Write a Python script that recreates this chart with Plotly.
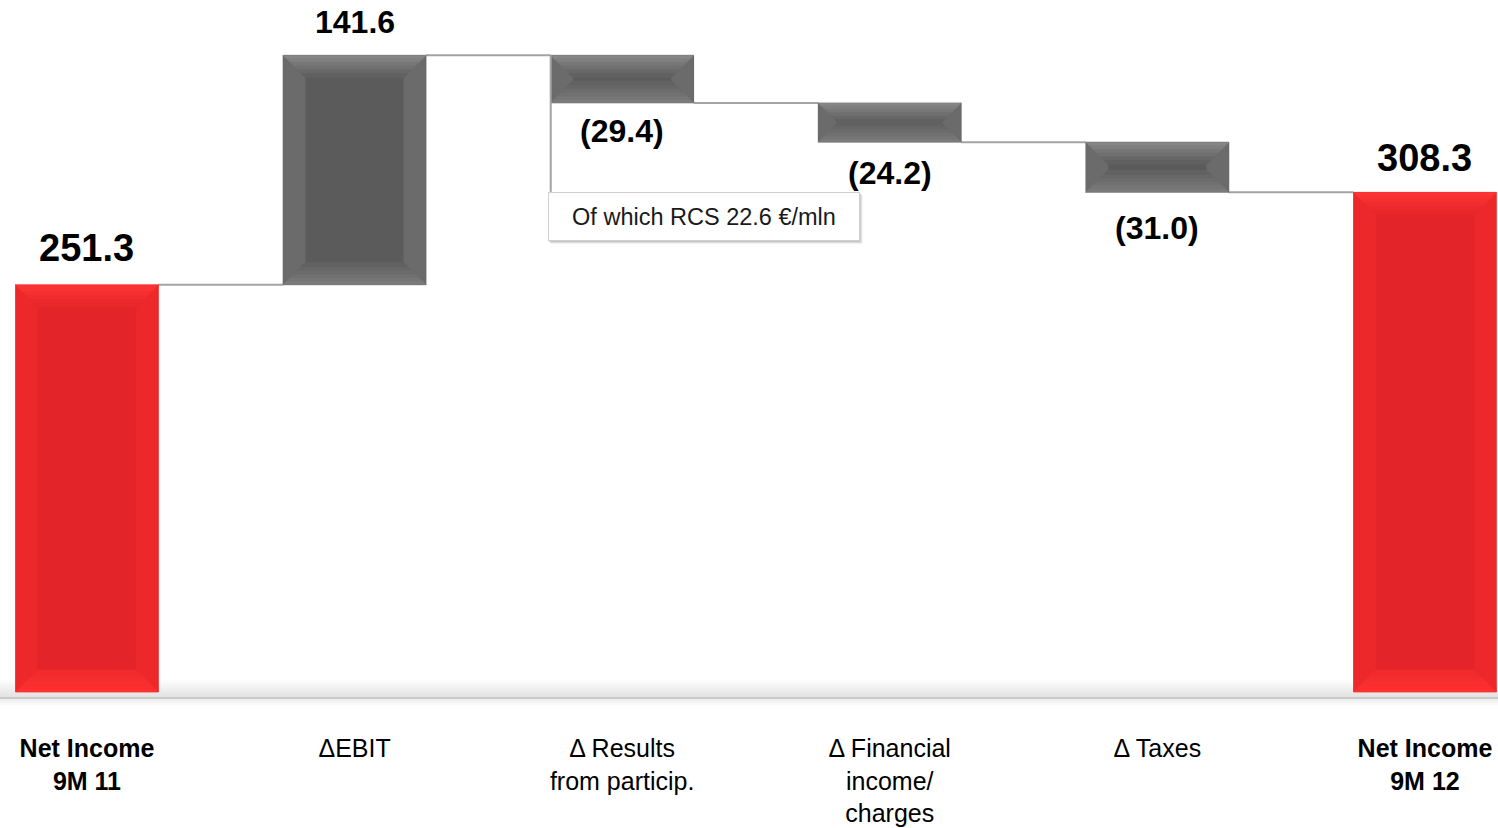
import plotly.graph_objects as go

# ---------------- data ----------------
categories = ["<b>Net Income<br>9M 11</b>", "ΔEBIT", "Δ Results<br>from particip.",
              "Δ Financial<br>income/<br>charges", "Δ Taxes", "<b>Net Income<br>9M 12</b>"]
values = [251.3, 141.6, -29.4, -24.2, -31.0, 308.3]
measures = ["absolute", "relative", "relative", "relative", "relative", "total"]
value_labels = ["251.3", "141.6", "(29.4)", "(24.2)", "(31.0)", "308.3"]
note_text = "Of which RCS 22.6 €/mln"

# ---------------- style ----------------
FONT = "Liberation Sans, Arial, sans-serif"
W, H = 1498, 828
MB = 118
X_RANGE = [-0.325, 5.273]
Y_RANGE = [-11.1, 427.0]
BAR_W = 0.534
XS = W / (X_RANGE[1] - X_RANGE[0])            # px per x unit
YS = (H - MB) / (Y_RANGE[1] - Y_RANGE[0])     # px per y unit
BEVEL = 22                                    # px
label_sizes = [38, 32, 32, 32, 32, 38]
label_shift = [37, 33, -28, -31, -36, 34]

RED = dict(main="#E32428", top=("#FF3535", "#E6272A"), bot=("#FF3131", "#F02A2D"), side="#EC282B")
GRAY = dict(main="#5B5B5B", top=("#8A8A8A", "#5D5D5D"), bot=("#7E7E7E", "#5F5F5F"), side="#6B6B6B")

# ---------------- compute waterfall geometry ----------------
idx = list(range(len(values)))
lows, highs, levels = [], [], []
level = 0.0
for v, m in zip(values, measures):
    if m == "absolute":
        b, t = 0.0, v
        level = v
    elif m == "relative":
        b, t = level, level + v
        level = t
    else:
        b, t = 0.0, level
    lows.append(min(b, t))
    highs.append(max(b, t))
    levels.append(level)
heights = [h - l for h, l in zip(highs, lows)]
styles = [RED if m != "relative" else GRAY for m in measures]

fig = go.Figure()
fig.add_trace(go.Bar(
    x=idx, y=heights, base=lows, width=BAR_W,
    marker=dict(color=[s["main"] for s in styles], line=dict(width=0)),
    hoverinfo="skip", showlegend=False))

# connectors
cx, cy = [], []
for i in range(len(values) - 1):
    cx += [i + BAR_W / 2, i + 1 - BAR_W / 2, None]
    cy += [levels[i], levels[i], None]
fig.add_trace(go.Scatter(x=cx, y=cy, mode="lines", line=dict(color="#A3A3A3", width=2),
                         hoverinfo="skip", showlegend=False))


def hex2rgb(h):
    h = h.lstrip("#")
    return tuple(int(h[k:k + 2], 16) for k in (0, 2, 4))


def mix(c1, c2, t):
    a, b = hex2rgb(c1), hex2rgb(c2)
    return "rgb(%d,%d,%d)" % tuple(round(a[k] + (b[k] - a[k]) * t) for k in range(3))


def poly(pts):
    return "M " + " L ".join("%f,%f" % p for p in pts) + " Z"


def fill_path(pts, color):
    return dict(type="path", xref="x", yref="y", line=dict(width=0.8, color=color),
                fillcolor=color, path=poly(pts))


shapes = []
# baseline shadow
for k in range(9):
    p0 = 680 + k * 2
    shapes.append(dict(type="rect", xref="paper", yref="y", x0=0, x1=1,
                       y0=(692 - p0 - 2) / YS, y1=(692 - p0) / YS,
                       fillcolor=mix("#FFFFFF", "#E2E2E2", (k + 1) / 9), line=dict(width=0), layer="below"))
shapes.append(dict(type="line", xref="paper", yref="y", x0=0, x1=1,
                   y0=(692 - 698) / YS, y1=(692 - 698) / YS, line=dict(color="#C9C9C9", width=2), layer="below"))
for k in range(4):
    p0 = 699 + k * 2
    shapes.append(dict(type="rect", xref="paper", yref="y", x0=0, x1=1,
                       y0=(692 - p0 - 2) / YS, y1=(692 - p0) / YS,
                       fillcolor=mix("#E8E8E8", "#FFFFFF", (k + 1) / 4), line=dict(width=0), layer="below"))

# bevels
N = 6
for i in idx:
    s = styles[i]
    x0, x1 = i - BAR_W / 2, i + BAR_W / 2
    lo, hi = lows[i], highs[i]
    B = min(BEVEL, heights[i] * YS / 2)
    bx, by = B / XS, B / YS
    shapes.append(fill_path([(x0, lo), (x0, hi), (x0 + bx, hi - by), (x0 + bx, lo + by)], s["side"]))
    shapes.append(fill_path([(x1, lo), (x1, hi), (x1 - bx, hi - by), (x1 - bx, lo + by)], s["side"]))
    for k in range(N):
        d0, d1 = B * k / N, B * (k + 1) / N
        ctop = mix(s["top"][0], s["top"][1], (k + 0.5) / N)
        cbot = mix(s["bot"][0], s["bot"][1], (k + 0.5) / N)
        shapes.append(fill_path([(x0 + d0 / XS, hi - d0 / YS), (x1 - d0 / XS, hi - d0 / YS),
                                 (x1 - d1 / XS, hi - d1 / YS), (x0 + d1 / XS, hi - d1 / YS)], ctop))
        shapes.append(fill_path([(x0 + d0 / XS, lo + d0 / YS), (x1 - d0 / XS, lo + d0 / YS),
                                 (x1 - d1 / XS, lo + d1 / YS), (x0 + d1 / XS, lo + d1 / YS)], cbot))

# callout
NOTE_BAR = 2
NOTE_DROP = 89      # px below bar bottom
BOX_W, BOX_H = 312, 49
note_x = NOTE_BAR - BAR_W / 2
note_top = lows[NOTE_BAR] - NOTE_DROP / YS
shapes.append(dict(type="line", xref="x", yref="y", x0=note_x, x1=note_x,
                   y0=highs[NOTE_BAR], y1=note_top, line=dict(color="#A3A3A3", width=2)))
# soft shadow of the note box
for k, a in enumerate([0.06, 0.08, 0.10]):
    off = 3 - k
    shapes.append(dict(type="rect", xref="x", yref="y",
                       x0=note_x + (off - 3) / XS, x1=note_x + (BOX_W - 3 + off) / XS,
                       y0=note_top - (BOX_H + off) / YS, y1=note_top - off / YS,
                       fillcolor="rgba(0,0,0,%.2f)" % a, line=dict(width=0)))

annotations = []
for i in idx:
    y = highs[i] if label_shift[i] > 0 else lows[i]
    annotations.append(dict(x=i, y=y, xref="x", yref="y", text="<b>%s</b>" % value_labels[i],
                            showarrow=False, yanchor="middle", yshift=label_shift[i],
                            font=dict(family=FONT, size=label_sizes[i], color="#000000")))
annotations.append(dict(x=note_x, y=note_top, xref="x", yref="y", text=note_text, showarrow=False,
                        xanchor="left", yanchor="top", xshift=-3, width=BOX_W - 12, height=BOX_H - 12,
                        borderpad=5, borderwidth=1, bordercolor="#D0D0D0", align="center",
                        bgcolor="#FFFFFF", font=dict(family=FONT, size=23.5, color="#1A1A1A")))

fig.update_layout(
    width=W, height=H, margin=dict(l=0, r=0, t=0, b=MB, autoexpand=False),
    plot_bgcolor="white", paper_bgcolor="white", showlegend=False,
    shapes=shapes, annotations=annotations, bargap=0,
    xaxis=dict(range=X_RANGE, tickmode="array", tickvals=idx, ticktext=categories,
               showgrid=False, zeroline=False, showline=False, ticks="", automargin=False,
               ticklabelstandoff=21, tickfont=dict(family=FONT, size=25, color="#000000")),
    yaxis=dict(range=Y_RANGE, visible=False, showgrid=False, zeroline=False, automargin=False),
)

fig.write_html("out.html")
